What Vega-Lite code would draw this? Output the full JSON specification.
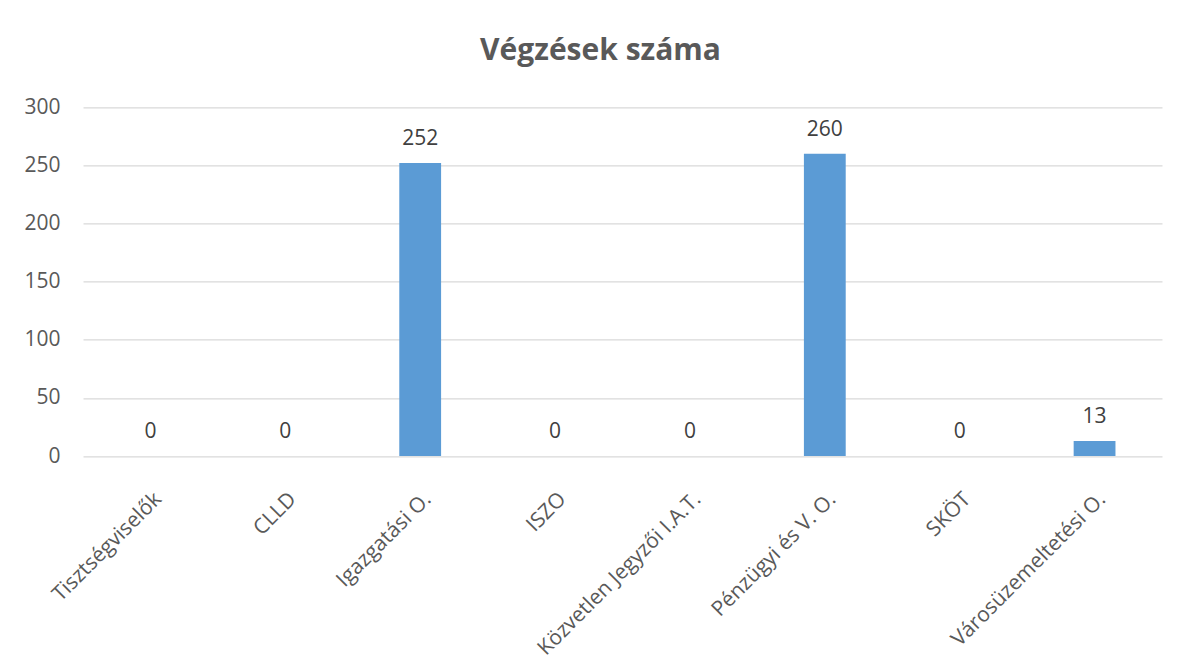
{
  "$schema": "https://vega.github.io/schema/vega-lite/v6.json",
  "autosize": {"type": "none"},
  "width": 1079,
  "height": 348.7,
  "padding": {"left": 83, "top": 107.3, "right": 22, "bottom": 205},
  "background": "white",
  "title": {
    "text": "Végzések száma",
    "font": "Open Sans",
    "fontSize": 30,
    "fontWeight": "bold",
    "color": "#595959",
    "anchor": "middle",
    "baseline": "alphabetic",
    "offset": 6.6,
    "dx": -22
  },
  "data": {
    "values": [
      {"cat": "Tisztségviselők", "v": 0},
      {"cat": "CLLD", "v": 0},
      {"cat": "Igazgatási O.", "v": 252},
      {"cat": "ISZO", "v": 0},
      {"cat": "Közvetlen Jegyzői I.A.T.", "v": 0},
      {"cat": "Pénzügyi és V. O.", "v": 260},
      {"cat": "SKÖT", "v": 0},
      {"cat": "Városüzemeltetési O.", "v": 13}
    ]
  },
  "encoding": {
    "x": {
      "field": "cat",
      "type": "nominal",
      "sort": null,
      "title": null,
      "scale": {"paddingInner": 0.69, "paddingOuter": 0.345},
      "axis": {
        "labelAngle": -45,
        "labelFont": "Open Sans",
        "labelFontSize": 21,
        "labelColor": "#595959",
        "labelPadding": 32,
        "ticks": false,
        "domain": false,
        "grid": false,
        "labelLimit": 400
      }
    },
    "y": {
      "field": "v",
      "type": "quantitative",
      "title": null,
      "scale": {"domain": [0, 300], "nice": false},
      "axis": {
        "values": [0, 50, 100, 150, 200, 250, 300],
        "labelFont": "Open Sans",
        "labelFontSize": 21,
        "labelColor": "#595959",
        "labelPadding": 23,
        "ticks": false,
        "domain": false,
        "gridColor": "#D9D9D9",
        "gridWidth": 1.3
      }
    }
  },
  "layer": [
    {"mark": {"type": "bar", "color": "#5B9BD5"}},
    {
      "mark": {
        "type": "text",
        "font": "Open Sans",
        "fontSize": 21,
        "color": "#404040",
        "baseline": "alphabetic",
        "dy": -17.7
      },
      "encoding": {"text": {"field": "v", "type": "quantitative"}}
    }
  ],
  "config": {"view": {"stroke": null}}
}
